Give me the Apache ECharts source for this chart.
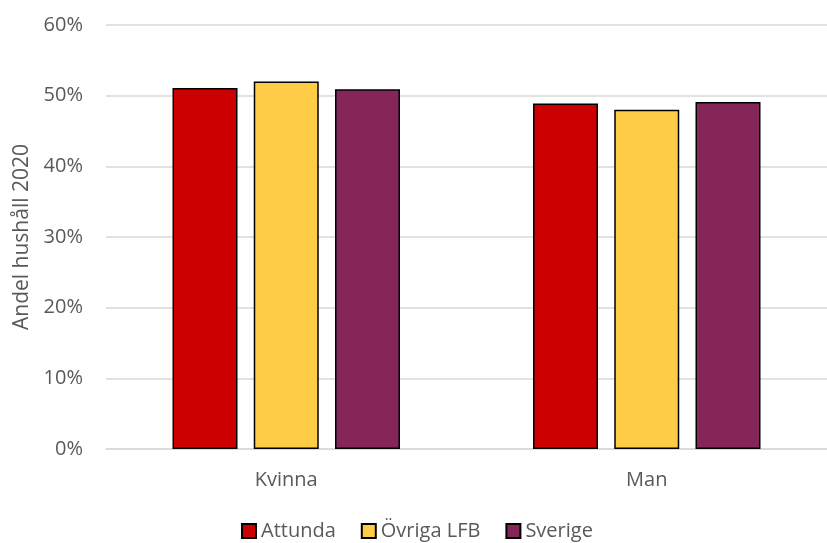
<!DOCTYPE html>
<html>
<head>
<meta charset="utf-8">
<script src="https://cdn.jsdelivr.net/npm/echarts@6/dist/echarts.min.js"></script>
<style>
  html, body { margin: 0; padding: 0; background: #fff; }
  #chart { width: 827px; height: 543px; }
</style>
</head>
<body>
<div id="chart"></div>
<script>
// Household share by sex of head of household, 2020 (percent)
const categories = ['Kvinna', 'Man'];
const attunda = [51.1, 48.9];
const ovrigaLFB = [52.0, 48.0];
const sverige = [50.9, 49.1];
const seriesNames = ['Attunda', 'Övriga LFB', 'Sverige'];
const seriesColors = ['#CC0000', '#FFCC47', '#842758'];
const yAxisTitle = 'Andel hushåll 2020';

const font = '"Open Sans", "Noto Sans", sans-serif';
const textColor = '#595959';

const chart = echarts.init(document.getElementById('chart'), null, { renderer: 'canvas' });

const values = [attunda, ovrigaLFB, sverige];

chart.setOption({
  animation: false,
  backgroundColor: '#fff',
  grid: { left: 106, top: 25, width: 730, height: 424, containLabel: false },
  legend: {
    top: 516,
    left: 236,
    icon: 'rect',
    itemWidth: 14,
    itemHeight: 14,
    itemGap: 25,
    textStyle: { color: textColor, fontSize: 20, fontFamily: font },
    data: seriesNames
  },
  xAxis: {
    type: 'category',
    data: categories,
    axisLine: { show: true, lineStyle: { color: '#d9d9d9', width: 1.5 } },
    axisTick: { show: false },
    axisLabel: { color: textColor, fontSize: 20, fontFamily: font, margin: 21 }
  },
  yAxis: {
    type: 'value',
    min: 0,
    max: 60,
    interval: 10,
    name: yAxisTitle,
    nameLocation: 'middle',
    nameGap: 73,
    nameTextStyle: { color: textColor, fontSize: 21, fontFamily: font },
    axisLine: { show: false },
    axisTick: { show: false },
    axisLabel: { color: textColor, fontSize: 20, fontFamily: font, margin: 23, formatter: '{value}%' },
    splitLine: { lineStyle: { color: '#d9d9d9', width: 1.5 } }
  },
  series: seriesNames.map((name, i) => ({
    name: name,
    type: 'bar',
    data: values[i],
    barWidth: 65,
    barGap: '25%',
    itemStyle: { color: seriesColors[i], borderColor: '#000', borderWidth: 1.5 }
  }))
});
</script>
</body>
</html>
